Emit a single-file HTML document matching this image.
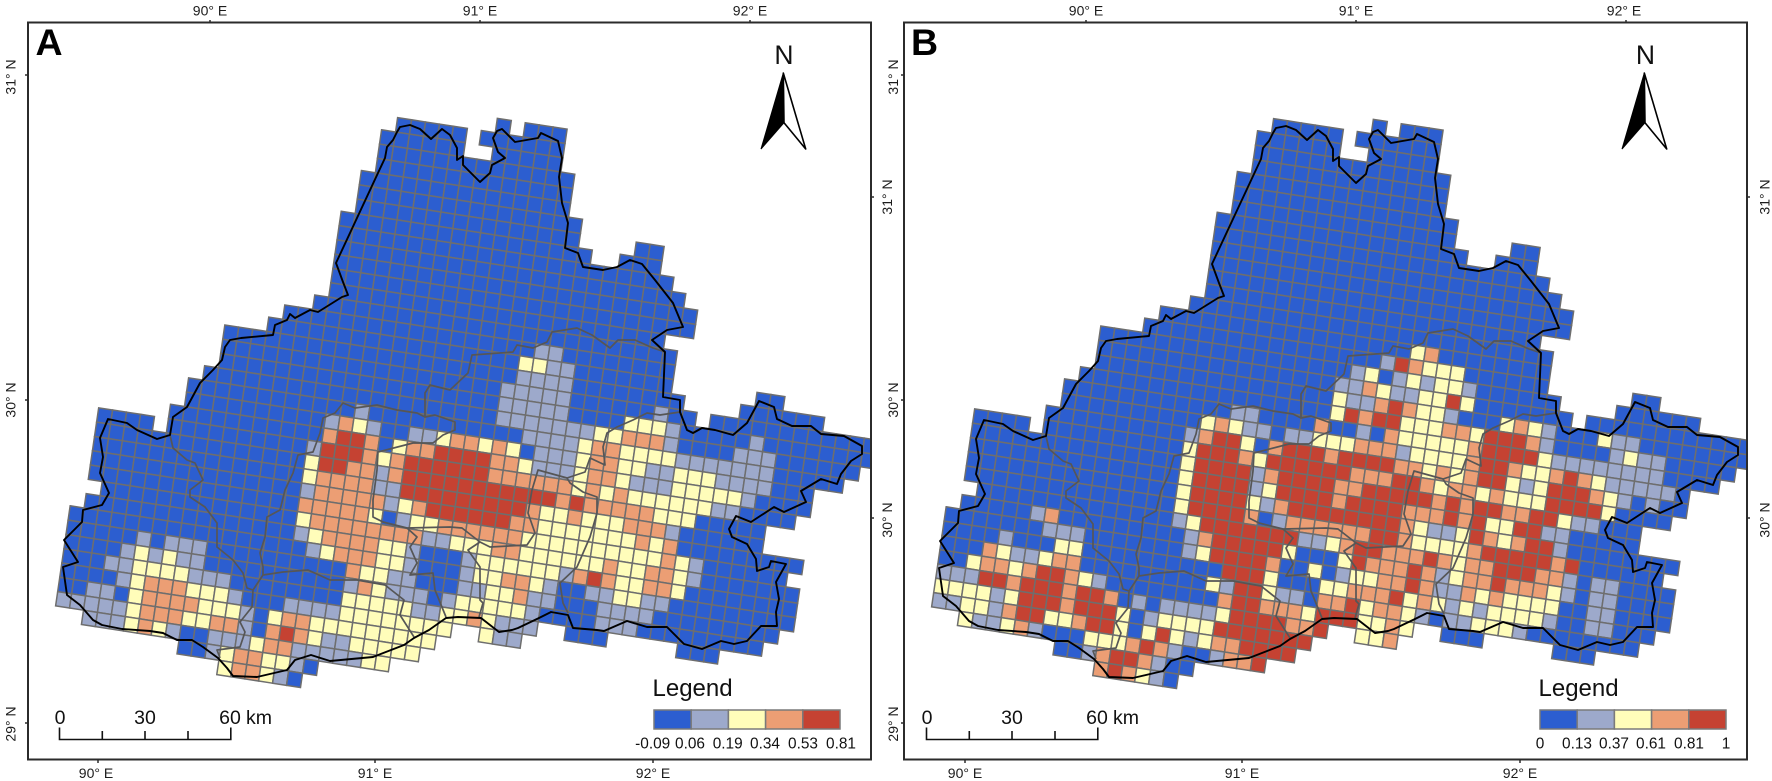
<!DOCTYPE html>
<html lang="en">
<head>
<meta charset="utf-8">
<title>Grid maps A and B</title>
<style>
html,body{margin:0;padding:0;background:#fff;}
svg{display:block;}
text{font-family:"Liberation Sans",sans-serif;fill:#1c1c1c;}
.tick{font-size:14px;}
.frame{fill:none;stroke:#2b2b2b;stroke-width:2;}
.tk{stroke:#2b2b2b;stroke-width:1.5;}
.sb{stroke:#111;stroke-width:1.6;fill:none;}
.sbt{font-size:19.5px;fill:#111;}
.leg{font-size:24px;fill:#111;}
.legt{font-size:15.4px;text-anchor:middle;fill:#111;}
.sw{stroke:#7a7a7a;stroke-width:1.5;}
</style>
</head>
<body>
<svg id="chart" xmlns="http://www.w3.org/2000/svg" width="1772" height="781" viewBox="0 0 1772 781">
<defs>
<clipPath id="clipA"><rect x="28" y="22.5" width="843" height="737"/></clipPath>
<clipPath id="clipB"><rect x="904" y="22.5" width="843" height="737"/></clipPath>
</defs>
<g id="mapA" clip-path="url(#clipA)"></g>
<g id="mapB" clip-path="url(#clipB)"></g>

<rect class="frame" x="28" y="22.5" width="843" height="737"/>
<rect class="frame" x="904" y="22.5" width="843" height="737"/>

<text x="35.5" y="55" font-size="37.5" font-weight="bold" style="fill:#000">A</text>
<text x="911" y="55" font-size="37.5" font-weight="bold" style="fill:#000">B</text>

<g>
<line class="tk" x1="210" y1="20" x2="210" y2="23"/>
<line class="tk" x1="480" y1="20" x2="480" y2="23"/>
<line class="tk" x1="750" y1="20" x2="750" y2="23"/>
<line class="tk" x1="98" y1="759" x2="98" y2="763"/>
<line class="tk" x1="375" y1="759" x2="375" y2="763"/>
<line class="tk" x1="653" y1="759" x2="653" y2="763"/>
<line class="tk" x1="25" y1="75" x2="28" y2="75"/>
<line class="tk" x1="25" y1="400" x2="28" y2="400"/>
<line class="tk" x1="25" y1="723" x2="28" y2="723"/>
<line class="tk" x1="871" y1="197" x2="874" y2="197"/>
<line class="tk" x1="871" y1="518" x2="874" y2="518"/>
<text class="tick" x="210" y="15.5" text-anchor="middle">90° E</text>
<text class="tick" x="480" y="15.5" text-anchor="middle">91° E</text>
<text class="tick" x="750" y="15.5" text-anchor="middle">92° E</text>
<text class="tick" x="96" y="778" text-anchor="middle">90° E</text>
<text class="tick" x="375" y="778" text-anchor="middle">91° E</text>
<text class="tick" x="653" y="778" text-anchor="middle">92° E</text>
<text class="tick" text-anchor="middle" transform="translate(15.5 77) rotate(-90)">31° N</text>
<text class="tick" text-anchor="middle" transform="translate(15.5 400) rotate(-90)">30° N</text>
<text class="tick" text-anchor="middle" transform="translate(15.5 724) rotate(-90)">29° N</text>
<text class="tick" text-anchor="middle" transform="translate(892 197) rotate(-90)">31° N</text>
<text class="tick" text-anchor="middle" transform="translate(892 520) rotate(-90)">30° N</text>
</g>

<g>
<line class="tk" x1="1086" y1="20" x2="1086" y2="23"/>
<line class="tk" x1="1356" y1="20" x2="1356" y2="23"/>
<line class="tk" x1="1626" y1="20" x2="1626" y2="23"/>
<line class="tk" x1="965" y1="759" x2="965" y2="763"/>
<line class="tk" x1="1242" y1="759" x2="1242" y2="763"/>
<line class="tk" x1="1520" y1="759" x2="1520" y2="763"/>
<line class="tk" x1="901" y1="75" x2="904" y2="75"/>
<line class="tk" x1="901" y1="400" x2="904" y2="400"/>
<line class="tk" x1="901" y1="723" x2="904" y2="723"/>
<line class="tk" x1="1747" y1="197" x2="1750" y2="197"/>
<line class="tk" x1="1747" y1="518" x2="1750" y2="518"/>
<text class="tick" x="1086" y="15.5" text-anchor="middle">90° E</text>
<text class="tick" x="1356" y="15.5" text-anchor="middle">91° E</text>
<text class="tick" x="1624" y="15.5" text-anchor="middle">92° E</text>
<text class="tick" x="965" y="778" text-anchor="middle">90° E</text>
<text class="tick" x="1242" y="778" text-anchor="middle">91° E</text>
<text class="tick" x="1520" y="778" text-anchor="middle">92° E</text>
<text class="tick" text-anchor="middle" transform="translate(898 77) rotate(-90)">31° N</text>
<text class="tick" text-anchor="middle" transform="translate(898 400) rotate(-90)">30° N</text>
<text class="tick" text-anchor="middle" transform="translate(898 724) rotate(-90)">29° N</text>
<text class="tick" text-anchor="middle" transform="translate(1769.5 197) rotate(-90)">31° N</text>
<text class="tick" text-anchor="middle" transform="translate(1769.5 520) rotate(-90)">30° N</text>
</g>

<g>
<text x="784" y="64" font-size="26.5" text-anchor="middle" style="fill:#111">N</text>
<polygon points="783.3,73 805.7,149 784,122.7" fill="#fff" stroke="#000" stroke-width="1.6" stroke-linejoin="round"/>
<polygon points="783.3,73 761,149 784,122.7" fill="#000" stroke="#000" stroke-width="1"/>
</g>
<g>
<text x="1645.5" y="64" font-size="26.5" text-anchor="middle" style="fill:#111">N</text>
<polygon points="1644.3,73 1666.7,149 1645,122.7" fill="#fff" stroke="#000" stroke-width="1.6" stroke-linejoin="round"/>
<polygon points="1644.3,73 1622,149 1645,122.7" fill="#000" stroke="#000" stroke-width="1"/>
</g>

<g>
<path class="sb" d="M59.5 727.5V739.5H230.8V727.5M102.3 731V739.5M145 731V739.5M188 731V739.5"/>
<text class="sbt" x="60" y="724" text-anchor="middle">0</text>
<text class="sbt" x="145" y="724" text-anchor="middle">30</text>
<text class="sbt" x="230" y="724" text-anchor="middle">60</text>
<text class="sbt" x="246" y="724">km</text>
</g>
<g>
<path class="sb" d="M926.5 727.5V739.5H1097.8V727.5M969.3 731V739.5M1012 731V739.5M1055 731V739.5"/>
<text class="sbt" x="927" y="724" text-anchor="middle">0</text>
<text class="sbt" x="1012" y="724" text-anchor="middle">30</text>
<text class="sbt" x="1097" y="724" text-anchor="middle">60</text>
<text class="sbt" x="1113" y="724">km</text>
</g>

<g>
<text class="leg" x="652.5" y="696">Legend</text>
<rect class="sw" x="654" y="710" width="37.2" height="19" fill="#2C5ED0"/>
<rect class="sw" x="691.2" y="710" width="37.2" height="19" fill="#9DA9CB"/>
<rect class="sw" x="728.4" y="710" width="37.2" height="19" fill="#FFFDBA"/>
<rect class="sw" x="765.6" y="710" width="37.2" height="19" fill="#EC9E74"/>
<rect class="sw" x="802.8" y="710" width="37.2" height="19" fill="#C54232"/>
<text class="legt" x="652.7" y="748.7">-0.09</text>
<text class="legt" x="690" y="748.7">0.06</text>
<text class="legt" x="727.7" y="748.7">0.19</text>
<text class="legt" x="765" y="748.7">0.34</text>
<text class="legt" x="803" y="748.7">0.53</text>
<text class="legt" x="841" y="748.7">0.81</text>
</g>
<g>
<text class="leg" x="1538.5" y="696">Legend</text>
<rect class="sw" x="1540" y="710" width="37.2" height="19" fill="#2C5ED0"/>
<rect class="sw" x="1577.2" y="710" width="37.2" height="19" fill="#9DA9CB"/>
<rect class="sw" x="1614.4" y="710" width="37.2" height="19" fill="#FFFDBA"/>
<rect class="sw" x="1651.6" y="710" width="37.2" height="19" fill="#EC9E74"/>
<rect class="sw" x="1688.8" y="710" width="37.2" height="19" fill="#C54232"/>
<text class="legt" x="1540" y="748.7">0</text>
<text class="legt" x="1577" y="748.7">0.13</text>
<text class="legt" x="1614" y="748.7">0.37</text>
<text class="legt" x="1651" y="748.7">0.61</text>
<text class="legt" x="1689" y="748.7">0.81</text>
<text class="legt" x="1726" y="748.7">1</text>
</g>
</svg>

<script>
const _ = null;
const classColors = ["#2C5ED0", "#9DA9CB", "#FFFDBA", "#EC9E74", "#C54232"];

/* first grid column of every row (rows 0-40) */
const rowStart = [27,20,19,19,19,18,18,18,17,17,17,17,17,17,16,14,13,10,10,10,9,8,8,7,2,2,2,2,2,3,2,1,1,1,1,1,1,1,3,10,13];

/* rows 0-14: identical, all lowest class, in both maps */
const upperRows = [
[0,_,0,0,0],
[0,0,0,0,0,_,0,0,0,0,0,0],
[0,0,0,0,0,0,_,_,0,0,0,0,0],
[0,0,0,0,0,0,0,0,0,0,0,0,0,0],
[0,0,0,0,0,0,0,0,0,0,0,0,0,0],
[0,0,0,0,0,0,0,0,0,0,0,0,0,0,0],
[0,0,0,0,0,0,0,0,0,0,0,0,0,0,0,0],
[0,0,0,0,0,0,0,0,0,0,0,0,0,0,0,0,_,_,_,_,0,0],
[0,0,0,0,0,0,0,0,0,0,0,0,0,0,0,0,0,0,_,_,0,0,0],
[0,0,0,0,0,0,0,0,0,0,0,0,0,0,0,0,0,0,0,0,0,0,0,0],
[0,0,0,0,0,0,0,0,0,0,0,0,0,0,0,0,0,0,0,0,0,0,0,0,0],
[0,0,0,0,0,0,0,0,0,0,0,0,0,0,0,0,0,0,0,0,0,0,0,0,0,0],
[0,0,0,0,0,0,0,0,0,0,0,0,0,0,0,0,0,0,0,0,0,0,0,0,0,0],
[0,0,0,0,0,0,0,0,0,0,0,0,0,0,0,0,0,0,0,0,0,0,0,0],
[0,0,0,0,0,0,0,0,0,0,0,0,0,0,0,0,0,0,0,0,0,0,0,0,0,0]
];

/* class index per cell, rows 15-40, map A */
const lowerRowsA = [
[0,0,0,0,0,0, 0,0,0,0,0,0,0,0,0,0, 0,0,1,1,0,0,0,0,0,0, 0,0],
[0,0,0,0,0,0,0, 0,0,0,0,0,0,0,0,0,0, 0,2,2,1,1,0,0,0,0,0, 0,0,_,_,_,_,_,_,0,0],
[0,0,0,0,0,0,0,0,0,0, 0,0,0,0,0,0,0,0,0,0, 0,1,1,1,1,0,0,0,0,0, 0,0,0,_,_,_,_,0,0,0, 0,0,0],
[0,0,0,0,0,0,0,0,0,0, 0,0,0,0,0,0,0,0,0,0, 1,1,1,1,1,0,0,0,0,0, 0,1,0,0,_,0,0,0,0,0, 0,0,0,0,0,0,0],
[0,0,0,0,0,0,0,0,0,0, 0,0,0,0,0,0,0,0,0,0, 1,1,1,1,1,0,0,0,0,2, 2,2,1,0,0,0,0,0,1,0, 0,0,0,0,0,0,0],
[0, 0,0,0,0,0,0,0,0,0,0, 0,0,0,0,0,0,0,0,0,0, 1,1,1,1,1,1,1,2,2,3, 3,3,1,0,0,0,0,1,1,1, 0,0,0,0,0,0],
[0,0, 0,0,0,0,0,0,0,0,0,0, 1,0,0,0,0,0,0,0,0,0, 0,0,1,1,1,1,2,3,3,2, 2,2,2,1,1,1,1,1,1,1, 0,0,0,0,0],
[0,0, 0,0,0,0,0,0,0,0,1,3, 2,1,0,0,1,1,2,3,3,2, 3,2,0,1,1,1,2,3,3,2, 2,1,1,2,2,2,1,1,1,1, 0,0,0],
[0,0,0, 0,0,0,0,0,0,0,0,3,4, 4,3,0,2,3,3,4,4,4,4, 3,3,2,1,1,1,2,3,3,2, 1,1,1,2,2,2,2,2,1,0, 0,0,0],
[0,0,0,0,_,0,0,0, 0,0,0,0,0,0,0,1,4,4, 4,3,2,3,4,4,4,4,4,4, 3,3,3,3,3,3,2,3,2,3, 2,2,2,2,2,2,1,1,0,0, 0,0],
[0,0,0,0,0,0,0,0, 0,0,0,0,0,0,0,2,4,4, 3,3,1,3,4,4,4,4,4,4, 4,4,4,4,4,3,4,3,3,3, 3,3,2,2,2,0,0,0,0,0],
[0,0,0,0,0,0,0,0, 0,0,0,0,0,0,0,2,3,3, 3,3,1,1,4,4,4,4,4,4, 4,4,4,3,2,2,3,2,2,2, 3,3,3,1,0,0,0,0,0,0],
[0,0,0,0,0,0,0,0, 0,0,0,0,0,0,0,1,3,3, 3,3,3,1,2,3,4,4,4,4, 4,4,3,3,2,2,2,2,2,2, 2,3,2,3,0,0,0,0,0,0, 0,0,0],
[0,0,0,0,0,0,0,0, 0,0,0,0,0,0,0,3,3,3, 3,3,2,0,1,2,2,3,3,3, 3,3,3,2,2,2,2,2,2,2, 2,2,2,3,2,1,0,0,0,0, 0,0],
[0,0,0,0,0,0,0, 0,0,0,0,0,0,0,2,3,3, 3,3,3,3,3,3,1,1,2,2, 2,3,3,2,2,2,2,2,2,3, 2,2,3,3,2,1,0,0,0,0, 0,0,0],
[0,0,0,0,0,0,0,0, 0,0,0,0,0,0,0,1,2,3, 3,3,3,2,2,1,0,0,0,1, 2,2,2,2,2,2,1,3,4,3, 2,2,3,3,2,0,0,0,0,0, 0,0,0],
[0,0,0,0,0,0,0,0,0, 0,0,0,0,0,0,0,0,1,2, 3,3,3,2,2,1,0,0,0,1, 2,2,3,3,2,1,0,0,1,1, 2,2,1,1,0,0,0,0,0,0, 0,0,0],
[0,0,0,0,0,1,0,1,1, 1,0,0,0,0,0,0,0,0,0, 0,3,2,2,1,1,0,0,0,1, 1,2,2,3,1,1,0,0,0,1, 1,1,1,0,0,0,0,0,0,0, 0,0],
[0,0,0,0,1,2,1,2,1, 1,0,0,0,0,0,0,0,0,0, 0,1,3,2,1,1,1,0,1,2, 2,2,2,2,1,0,0,0,0,1, 1,1,0,0,0,0,0,0,0,0, 0],
[0,0,0,1,1,2,2,2,2, 1,1,1,0,0,0,0,0,0,0, 0,2,2,2,2,2,1,1,2,2, 3,2,1,1,1,_,_,0,0,0, _,_,_,_,_,0,0,0],
[0,0,0,0,1,2,3,3,3, 2,2,2,1,0,0,0,1,1,1, 1,2,2,2,2,2,2,2,2,_, _,2,1,1],
[0,0,1,1,0,2,3,3,3, 3,2,2,2,1,0,2,3,3,2, 2,2,2,2,2,2,2,2],
[1,1,1,1,1,2,3,3,3, 2,2,3,3,1,0,3,4,3,2, 1,1,2,2,2,2,2],
[1,1,1,2,3,2,1, 0,0,1,1,1,2,3,3,1,1, 1,1,1,2,2],
[0,0,1,2,3,3,2,2,1,0],
[2,3,3,2,1,0]
];

/* class index per cell, rows 15-40, map B */
const lowerRowsB = [
[0,0,0,0,0,0, 0,0,0,0,0,0,0,0,0,0, 0,0,2,3,0,0,0,0,0,0, 0,0],
[0,0,0,0,0,0,0, 0,0,0,0,0,0,0,0,0,0, 1,4,3,2,2,2,0,0,0,0, 0,0,_,_,_,_,_,_,0,0],
[0,0,0,0,0,0,0,0,0,0, 0,0,0,0,0,0,0,0,1,2, 0,1,2,1,2,2,1,0,0,0, 0,0,0,_,_,_,_,0,0,0, 0,0,0],
[0,0,0,0,0,0,0,0,0,0, 0,0,0,0,0,0,0,1,1,3, 2,1,1,2,2,4,2,0,0,0, 0,0,0,0,_,0,0,0,0,0, 0,0,0,0,0,0,0],
[0,0,0,0,0,0,0,0,0,0, 0,0,0,0,0,0,0,2,1,1, 3,4,3,2,2,1,0,0,0,2, 3,2,1,0,0,0,2,1,1,0, 0,0,0,0,0,0,0],
[0, 0,0,0,0,0,0,0,0,0,0, 0,0,0,0,0,0,0,2,4,3, 4,4,2,2,2,3,3,2,4,4, 4,3,1,0,0,0,0,1,2,1, 1,0,0,0,0,0],
[0,0, 0,0,0,0,0,0,0,0,0,0, 1,1,0,0,0,0,3,0,0,1, 0,3,2,2,2,2,2,3,4,4, 4,4,2,1,1,1,1,1,1,1, 1,0,0,0,0],
[0,0, 0,0,0,0,0,0,0,0,2,3, 2,1,1,0,1,1,2,2,2,3, 3,3,1,2,2,2,2,3,4,4, 3,2,2,3,4,3,2,1,1,1, 1,1,0],
[0,0,0, 0,0,0,0,0,0,0,1,3,4, 4,2,0,3,4,4,4,3,4,4, 4,4,3,3,2,3,2,3,4,4, 2,1,2,4,4,4,3,2,1,0, 1,0,0],
[0,0,0,0,_,0,0,0, 0,0,0,0,0,0,0,2,4,4, 4,3,2,4,4,4,4,4,4,3, 3,3,4,4,3,2,3,3,2,3, 2,2,2,4,4,4,4,2,0,0, 0,0],
[0,0,0,0,0,0,0,0, 0,0,0,0,0,0,0,2,4,4, 4,4,1,3,4,4,4,4,3,3, 4,4,4,4,4,3,4,3,4,4, 3,3,4,4,2,1,1,0,0,0],
[0,0,0,0,0,0,0,0, 0,0,0,0,0,0,0,2,4,4, 4,4,1,2,4,4,4,4,3,4, 4,4,4,3,3,3,4,3,4,2, 2,4,4,1,1,0,0,0,0,0],
[0,0,0,0,0,0,0,0, 0,0,0,0,0,0,0,2,4,4, 4,4,2,1,3,4,4,4,4,4, 4,4,4,3,2,1,1,2,4,3, 2,3,4,4,1,0,0,0,0,0, 0,0,0],
[0,0,0,0,0,0,0,0, 0,0,0,0,0,0,0,2,4,4, 4,4,3,0,1,3,3,3,3,3, 3,4,4,3,2,2,2,2,3,4, 4,4,4,4,3,4,0,0,0,0, 0,0],
[0,0,0,0,0,0,0, 0,0,0,0,0,0,0,1,2,4, 4,4,4,4,4,4,1,1,2,3, 4,4,3,3,3,4,3,2,3,3, 4,4,4,3,3,1,0,1,1,0, 0,0,0],
[0,0,0,0,0,1,3,0, 0,0,0,0,0,0,0,0,1,3, 4,4,4,4,4,2,0,0,0,2, 4,3,3,3,4,3,1,2,3,3, 4,3,3,3,2,1,0,1,1,0, 0,0,0],
[0,0,0,0,0,0,0,1,1, 1,0,0,0,0,0,0,0,1,2, 4,4,4,4,3,0,0,2,0,1, 2,2,3,3,4,3,1,1,3,2, 3,2,2,2,2,0,0,1,1,0, 0,0,0],
[0,0,0,0,1,0,0,0,2, 2,0,0,0,0,0,0,0,0,0, 0,4,4,4,2,0,0,0,2,2, 3,3,3,4,2,3,2,1,2,1, 2,2,2,2,1,0,0,1,1,0, 0,0],
[0,0,0,3,2,1,1,2,3, 3,0,0,0,0,0,0,0,0,0, 2,1,4,4,2,1,1,0,3,3, 4,2,3,3,2,1,0,1,1,2, 2,2,1,0,0,0,0,0,0,0, 0],
[0,0,2,3,3,2,3,4,4, 3,2,1,0,0,0,0,0,0,0, 0,3,4,4,3,3,3,2,4,4, 4,2,2,3,2,_,_,0,0,0, _,_,_,_,_,0,0,0],
[1,1,1,4,4,3,4,4,4, 3,4,4,3,0,1,0,1,1,1, 1,2,4,4,4,4,3,3,4,_, _,2,2,3],
[2,2,2,2,1,2,4,4,4, 3,4,4,4,2,0,1,2,2,2, 2,4,4,4,4,4,4,4],
[1,1,2,2,1,3,4,4,2, 2,3,4,4,2,0,2,4,2,1, 2,3,3,4,4,4,4],
[2,1,1,2,3,1,0, 0,0,2,2,2,3,4,3,1,0, 0,1,3,3,4],
[0,0,1,3,4,4,3,1,0,0],
[3,4,3,2,1,0]
];

/* river-basin outlines, drawn once per map */
const outerBoundaryPath = "M336 263L385 158 387 147 393 140 397 132 400 127 410 125 420 129 431 139 442 129 450 135 457 148 457 160 463 156 463 165 480 182 490 173 492 165 505 158 498 152 493 138 497 131 502 129 515 142 538 138 541 133 558 141 562 158 559 177 562 203 568 223 565 248 578 253 583 267 603 270 617 267 630 260 642 264 655 280 673 303 683 327 667 330 652 340 665 352 663 397 680 400 680 412 687 430 693 433 702 428 715 430 733 435 747 423 759 401 774 407 777 419 792 426 811 426 821 434 844 436 862 446 862 454 851 461 841 474 837 484 821 479 801 491 806 502 784 512 774 507 751 522 736 516 729 529 732 537 747 544 756 559 757 571 769 567 771 561 786 564 776 582 779 599 776 612 777 626 761 626 747 641 734 644 721 641 702 649 684 644 667 627 647 627 627 621 604 631 597 630 573 628 568 615 551 612 539 618 518 628 512 630 499 632 481 618 458 617 446 618 429 630 414 638 404 645 373 657 330 661 311 655 295 660 287 670 257 677 233 676 227 668 218 658 203 647 192 640 177 640 163 633 150 631 122 629 102 625 93 620 80 605 67 595 63 567 78 562 64 540 82 522 83 510 102 505 109 493 100 473 103 457 100 438 108 419 127 423 137 430 157 439 170 435 173 417 187 407 200 383 213 370 222 360 225 347 230 340 241 338 273 335 275 325 287 320 290 314 295 318 310 310 318 312 342 297 348 295 343 282Z";
const innerBoundaryPath = "M170 435L173 448 187 460 195 463 203 480 190 490 190 497 205 507 217 523 217 547 233 560 243 573 247 588 253 590 252 607 240 622 245 632 240 647 217 650 220 658M253 590L263 575 263 567 260 553 265 537 267 517 280 510 285 490 293 473 298 455 313 452 320 433 323 418 335 413 343 403 355 408 377 405 397 410 417 413 425 417 435 415 455 422 455 430 443 435 433 443 413 443 378 452 377 470 373 500 373 517 383 522 407 528 450 527 462 528 480 542 490 547 527 545 535 533 528 513 532 490 538 470 567 478 585 472 590 458 605 465 603 447 607 433 617 427 633 420 647 413 660 415 680 412M425 417L425 393 430 385 450 390 468 373 472 355 513 352 517 345 533 348 547 342 552 332 577 328 592 335 610 348 618 340 635 340 653 348 665 352M567 478L570 483 583 492 597 497 597 513 590 537 577 567 560 583 563 603 568 613M480 542L468 550 480 567 480 600 483 603 479 617M407 528L417 537 410 547 417 563 410 575 433 573 435 590 446 617M263 575L283 572 308 570 330 580 357 580 385 585 404 600 400 615 414 637";

const SVG_NS = "http://www.w3.org/2000/svg";
const originX = 120.7, originY = 60.35;
const colStepX = 13.95, colStepY = 2.15, rowStepX = -2.08, rowStepY = 14.3;

function gridX(col, row) { return originX + col * colStepX + row * rowStepX; }
function gridY(col, row) { return originY + col * colStepY + row * rowStepY; }
function colorScale(value) { return classColors[Math.max(0, Math.min(classColors.length - 1, Math.round(value)))]; }

function drawMap(groupId, rows, dx, dy) {
  const group = document.getElementById(groupId);
  const inner = document.createElementNS(SVG_NS, "g");
  
  
  inner.setAttribute("transform", "translate(" + dx + " " + dy + ")");
  group.appendChild(inner);
  rows.forEach(function (rowValues, r) {
    rowValues.forEach(function (value, i) {
      if (value === null) return;
      const c = rowStart[r] + i;
      const cell = document.createElementNS(SVG_NS, "polygon");
      const corners = [[c, r], [c + 1, r], [c + 1, r + 1], [c, r + 1]];
      cell.setAttribute("points", corners.map(function (p) {
        return gridX(p[0], p[1]).toFixed(2) + "," + gridY(p[0], p[1]).toFixed(2);
      }).join(" "));
      cell.setAttribute("fill", colorScale(value));
      cell.setAttribute("stroke", "#6e6e6e");
      cell.setAttribute("stroke-width", "1.5");
      
      
      inner.appendChild(cell);
    });
  });
  const innerLine = document.createElementNS(SVG_NS, "path");
  innerLine.setAttribute("d", innerBoundaryPath);
  innerLine.setAttribute("fill", "none");
  innerLine.setAttribute("stroke", "#565656");
  innerLine.setAttribute("stroke-width", "1.7");
  innerLine.setAttribute("stroke-linejoin", "round");
  
  
  inner.appendChild(innerLine);
  const outerLine = document.createElementNS(SVG_NS, "path");
  outerLine.setAttribute("d", outerBoundaryPath);
  outerLine.setAttribute("fill", "none");
  outerLine.setAttribute("stroke", "#000");
  outerLine.setAttribute("stroke-width", "1.9");
  outerLine.setAttribute("stroke-linejoin", "round");
  
  
  inner.appendChild(outerLine);
}

drawMap("mapA", upperRows.concat(lowerRowsA), 0, 0);
drawMap("mapB", upperRows.concat(lowerRowsB), 876, 1);
</script>
</body>
</html>
